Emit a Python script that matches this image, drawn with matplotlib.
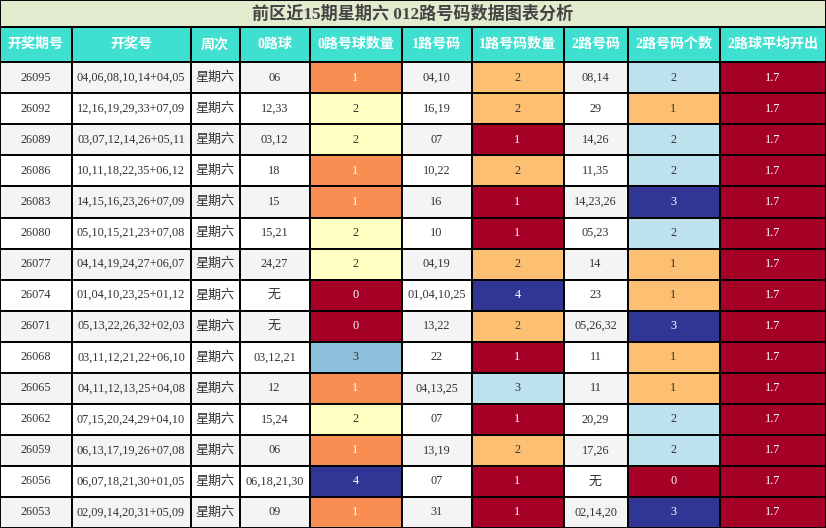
import numpy as np
import matplotlib
matplotlib.use("Agg")
import matplotlib.pyplot as plt
from matplotlib.patches import Rectangle

plt.rcParams['font.family'] = ['Liberation Serif', 'Noto Sans CJK SC', 'DejaVu Sans']

title = "前区近15期星期六 012路号码数据图表分析"
headers = ["开奖期号", "开奖号", "周次", "0路球", "0路号球数量", "1路号码",
           "1路号码数量", "2路号码", "2路号码个数", "2路球平均开出"]

issues = ["26095", "26092", "26089", "26086", "26083", "26080", "26077", "26074",
          "26071", "26068", "26065", "26062", "26059", "26056", "26053"]
draws = ["04,06,08,10,14+04,05", "12,16,19,29,33+07,09", "03,07,12,14,26+05,11",
         "10,11,18,22,35+06,12", "14,15,16,23,26+07,09", "05,10,15,21,23+07,08",
         "04,14,19,24,27+06,07", "01,04,10,23,25+01,12", "05,13,22,26,32+02,03",
         "03,11,12,21,22+06,10", "04,11,12,13,25+04,08", "07,15,20,24,29+04,10",
         "06,13,17,19,26+07,08", "06,07,18,21,30+01,05", "02,09,14,20,31+05,09"]
weekday = ["星期六"] * 15
road0 = ["06", "12,33", "03,12", "18", "15", "15,21", "24,27", "无", "无",
         "03,12,21", "12", "15,24", "06", "06,18,21,30", "09"]
road0_cnt = [1, 2, 2, 1, 1, 2, 2, 0, 0, 3, 1, 2, 1, 4, 1]
road1 = ["04,10", "16,19", "07", "10,22", "16", "10", "04,19", "01,04,10,25",
         "13,22", "22", "04,13,25", "07", "13,19", "07", "31"]
road1_cnt = [2, 2, 1, 2, 1, 1, 2, 4, 2, 1, 3, 1, 2, 1, 1]
road2 = ["08,14", "29", "14,26", "11,35", "14,23,26", "05,23", "14", "23",
         "05,26,32", "11", "11", "20,29", "17,26", "无", "02,14,20"]
road2_cnt = [2, 1, 2, 2, 3, 2, 1, 1, 3, 1, 1, 2, 2, 0, 3]
road2_avg = [1.7] * 15

col_edges = [0, 71.5, 190.5, 239.5, 309.5, 401.5, 471.5, 563.5, 627.5, 719.5, 826]
W, H = 826, 528
title_h = 27
head_h = 35.3
n = len(issues)
row_h = (H - title_h - head_h) / n

fig = plt.figure(figsize=(W / 100, H / 100), dpi=100)
ax = fig.add_axes([0, 0, 1, 1])
ax.set_xlim(0, W)
ax.set_ylim(H, 0)
ax.axis("off")

lw = 1.4
cmap = plt.get_cmap("RdYlBu")

# title row
ax.add_patch(Rectangle((0, 0), W, title_h, facecolor="#e3ebcf", edgecolor="black", lw=lw))
ax.text(W / 2, title_h / 2 + 1, title, ha="center", va="center", fontsize=12.3,
        fontweight="bold", color="#444444")

# header row
for j, h in enumerate(headers):
    x0, x1 = col_edges[j], col_edges[j + 1]
    ax.add_patch(Rectangle((x0, title_h), x1 - x0, head_h, facecolor="#40e0d0",
                           edgecolor="black", lw=lw))
    ax.text((x0 + x1) / 2, title_h + head_h / 2, h, ha="center", va="center",
            fontsize=10.1, fontweight="bold", color="white")

text_cols = [issues, draws, weekday, road0, None, road1, None, road2, None, None]
num_cols = {4: road0_cnt, 6: road1_cnt, 8: road2_cnt, 9: road2_avg}

# body rows, count columns coloured by their own value range
for i in range(n):
    y0 = title_h + head_h + i * row_h
    base = "#f4f4f4" if i % 2 == 0 else "white"
    for j in range(len(headers)):
        x0, x1 = col_edges[j], col_edges[j + 1]
        fc = base
        tc = "#333333"
        if j in num_cols:
            vals = num_cols[j]
            lo, hi = min(vals), max(vals)
            t = 0.0 if hi == lo else (vals[i] - lo) / (hi - lo)
            fc = cmap(t)
            if t < 0.3 or t > 0.85:
                tc = "white"
            label = str(vals[i])
        else:
            label = text_cols[j][i]
        ax.add_patch(Rectangle((x0, y0), x1 - x0, row_h, facecolor=fc,
                               edgecolor="black", lw=lw))
        fs = 9.4 if label in ("星期六", "无") else 8.8
        ax.text((x0 + x1) / 2, y0 + row_h / 2, label, ha="center", va="center",
                fontsize=fs, color=tc)

fig.savefig("out.png", dpi=100)
